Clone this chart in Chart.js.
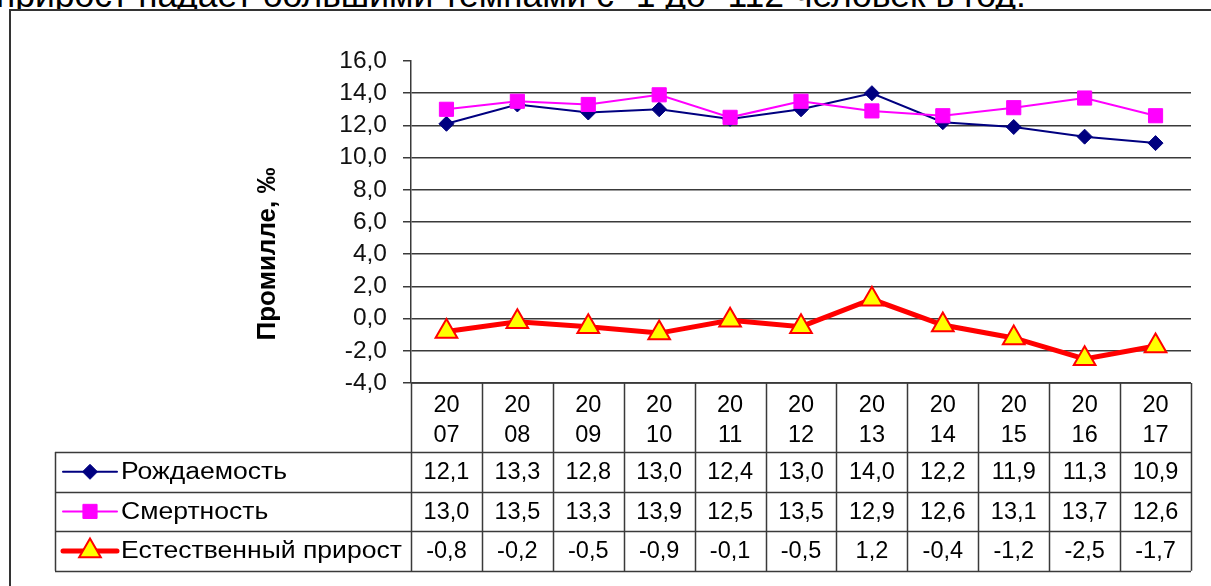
<!DOCTYPE html>
<html>
<head>
<meta charset="utf-8">
<script src="https://cdn.jsdelivr.net/npm/chart.js@4.4.1/dist/chart.umd.min.js"></script>
<style>
  html, body { margin: 0; padding: 0; background: #fff; width: 1211px; height: 586px; overflow: hidden; }
  #lead { position: absolute; left: -4px; top: -17px; font-family: "Liberation Sans", Arial, sans-serif; color: #000; white-space: nowrap; }
  #frame { position: absolute; left: 9px; top: 9px; width: 1230px; height: 600px; background: #fff; border-left: 2px solid #333; border-top: 2px solid #333; }
  #wrap { position: absolute; left: 0; top: 0; width: 1211px; height: 586px; }
</style>
</head>
<body>
<div id="lead">прирост падает большими темпами с -1 до -112 человек в год.</div>
<div id="frame"></div>
<div id="wrap"><canvas id="c"></canvas></div>
<script>
// Years shown along the bottom of the chart
const categories = ['2007', '2008', '2009', '2010', '2011', '2012', '2013', '2014', '2015', '2016', '2017'];

// Rates per 1000 population (‰)
const births  = [12.1, 13.3, 12.8, 13.0, 12.4, 13.0, 14.0, 12.2, 11.9, 11.3, 10.9];
const deaths  = [13.0, 13.5, 13.3, 13.9, 12.5, 13.5, 12.9, 12.6, 13.1, 13.7, 12.6];
const natural = [-0.8, -0.2, -0.5, -0.9, -0.1, -0.5, 1.2, -0.4, -1.2, -2.5, -1.7];

const seriesNames = ['Рождаемость', 'Смертность', 'Естественный прирост'];
const axisTitle = 'Промилле, ‰';

const yMin = -4, yMax = 16, yStep = 2;

const fmt = v => v.toFixed(1).replace('.', ',');
const FONT = '"Liberation Sans", Arial, sans-serif';

// Text line above the chart frame: sized to span the page width, only its lower part shows
(function sizeLead() {
  const el = document.getElementById('lead');
  const m = document.createElement('canvas').getContext('2d');
  m.font = '30px ' + FONT;
  const fs = 30 * 1030 / m.measureText(el.textContent).width;
  el.style.fontSize = fs + 'px';
  el.style.lineHeight = fs + 'px';
  el.style.top = (8 - 0.8465 * fs) + 'px';
})();

const seriesStyles = [
  { color: '#000080', fill: '#000080', width: 2, shape: 'rectRot', radius: 7.5, bw: 1 },
  { color: '#FF00FF', fill: '#FF00FF', width: 2, shape: 'rect', radius: 10, bw: 1 },
  { color: '#FF0000', fill: '#FFFF00', width: 5, shape: 'triangle', radius: 12.5, bw: 2 }
];
const seriesData = [births, deaths, natural];

function marker(ctx, shape, r, cx, cy, fill, stroke, bw) {
  ctx.beginPath();
  if (shape === 'rectRot') {
    ctx.moveTo(cx, cy - r); ctx.lineTo(cx + r, cy); ctx.lineTo(cx, cy + r); ctx.lineTo(cx - r, cy);
  } else if (shape === 'rect') {
    const s = Math.SQRT1_2 * r;
    ctx.rect(cx - s, cy - s, 2 * s, 2 * s);
  } else {
    ctx.moveTo(cx, cy - r);
    ctx.lineTo(cx + Math.sin(2 * Math.PI / 3) * r, cy + r / 2);
    ctx.lineTo(cx - Math.sin(2 * Math.PI / 3) * r, cy + r / 2);
  }
  ctx.closePath();
  ctx.fillStyle = fill; ctx.fill();
  ctx.lineWidth = bw; ctx.strokeStyle = stroke; ctx.stroke();
}

// Data table under the plot, with the legend keys in its first column
const dataTable = {
  id: 'dataTable',
  afterDraw(chart) {
    const { ctx, chartArea: a, scales: { x } } = chart;
    const n = categories.length;
    const headH = 69, rowH = 39.6, tableLeft = 55;
    const headBottom = a.bottom + headH;
    const tableBottom = headBottom + rowH * seriesData.length;
    ctx.save();
    ctx.strokeStyle = '#3a3a3a';
    ctx.lineWidth = 1.5;
    ctx.beginPath();
    for (let i = 0; i <= n; i++) {
      const bx = Math.round(x.getPixelForValue(i - 0.5)) + 0.5;
      ctx.moveTo(bx, a.bottom); ctx.lineTo(bx, tableBottom);
    }
    ctx.moveTo(a.left, a.bottom); ctx.lineTo(a.right, a.bottom);
    for (let r = 0; r <= seriesData.length; r++) {
      const yy = Math.round(headBottom + r * rowH) + 0.5;
      ctx.moveTo(tableLeft, yy); ctx.lineTo(a.right, yy);
    }
    ctx.moveTo(tableLeft + 0.5, headBottom); ctx.lineTo(tableLeft + 0.5, tableBottom);
    ctx.stroke();

    ctx.fillStyle = '#000';
    ctx.font = '23.5px ' + FONT;
    ctx.textAlign = 'center';
    ctx.textBaseline = 'middle';
    categories.forEach((c, i) => {
      const cx = x.getPixelForValue(i);
      ctx.fillText(c.slice(0, 2), cx, a.bottom + 23);
      ctx.fillText(c.slice(2), cx, a.bottom + 53);
    });
    seriesData.forEach((arr, r) => {
      const cy = headBottom + rowH * (r + 0.5);
      ctx.fillStyle = '#000';
      ctx.textAlign = 'center';
      arr.forEach((v, i) => ctx.fillText(fmt(v), x.getPixelForValue(i), cy + 1));
      const st = seriesStyles[r];
      ctx.beginPath();
      ctx.moveTo(63, cy); ctx.lineTo(117, cy);
      ctx.lineWidth = st.width; ctx.strokeStyle = st.color; ctx.lineCap = 'round';
      ctx.stroke();
      ctx.lineCap = 'butt';
      marker(ctx, st.shape, st.radius, 90, cy, st.fill, st.color, st.bw);
      // series name, set a little wider than the stock face
      ctx.save();
      ctx.translate(121, cy + 1);
      ctx.scale(1.13, 1);
      ctx.fillStyle = '#000';
      ctx.textAlign = 'left';
      ctx.fillText(seriesNames[r], 0, 0);
      ctx.restore();
    });
    ctx.restore();
  }
};

// Rotated y-axis title
const yTitle = {
  id: 'yTitle',
  afterDraw(chart) {
    const { ctx } = chart;
    ctx.save();
    ctx.translate(268, 254);
    ctx.rotate(-Math.PI / 2);
    ctx.font = 'bold 26px ' + FONT;
    ctx.fillStyle = '#000';
    ctx.textAlign = 'center';
    ctx.textBaseline = 'middle';
    ctx.fillText(axisTitle, 0, 0);
    ctx.restore();
  }
};

const datasets = seriesData.map((arr, r) => {
  const st = seriesStyles[r];
  return {
    label: seriesNames[r],
    data: arr,
    borderColor: st.color,
    borderWidth: st.width,
    backgroundColor: st.fill,
    pointStyle: st.shape,
    pointRadius: st.radius,
    pointBackgroundColor: st.fill,
    pointBorderColor: st.color,
    pointBorderWidth: st.bw,
    tension: 0,
    order: [2, 1, 0][r],
    clip: false
  };
});

new Chart(document.getElementById('c'), {
  type: 'line',
  data: { labels: categories, datasets },
  plugins: [dataTable, yTitle],
  options: {
    responsive: true,
    maintainAspectRatio: false,
    animation: false,
    events: [],
    layout: { padding: { top: 61, right: 20, bottom: 203, left: 0 } },
    plugins: { legend: { display: false }, tooltip: { enabled: false } },
    scales: {
      x: { type: 'category', offset: true, display: false },
      y: {
        min: yMin, max: yMax,
        afterFit: s => { s.width = 411; },
        border: { display: true, color: '#3a3a3a', width: 1.5 },
        grid: {
          color: c => (c.tick && c.tick.value === yMax ? 'rgba(0,0,0,0)' : '#3a3a3a'),
          tickColor: '#3a3a3a',
          lineWidth: 1.5,
          tickLength: 8
        },
        ticks: {
          stepSize: yStep,
          autoSkip: false,
          padding: 16,
          color: '#111',
          font: { family: FONT, size: 24.5 },
          callback: v => fmt(v)
        }
      }
    }
  }
});
</script>
</body>
</html>
